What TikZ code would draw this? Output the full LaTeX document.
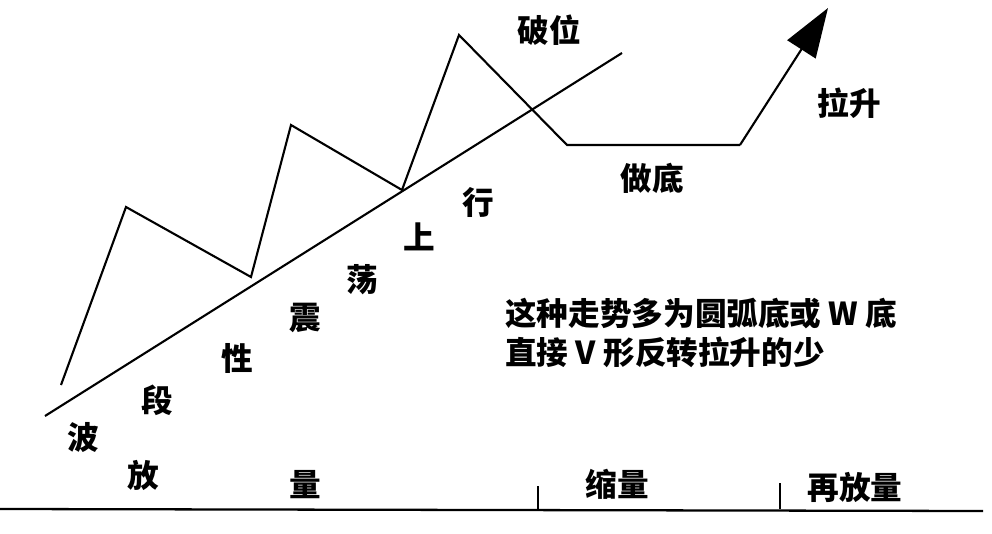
\documentclass[tikz,border=0pt]{standalone}
\usepackage{fontspec}
\newfontfamily\cjk{Noto Sans CJK SC}
\usetikzlibrary{arrows.meta}
\tikzset{
  linea/.style={line width=1.2pt, line join=miter},
  etich/.style={font=\cjk\bfseries\fontsize{18}{18}\selectfont, inner sep=0pt},
}
\begin{document}
\begin{tikzpicture}[x=0.02cm, y=-0.02cm]
        \useasboundingbox (0,0) rectangle (992,534);
        % Punti del percorso
        \coordinate (p0) at (61,385);
        \coordinate (p1) at (126,207);
        \coordinate (p2) at (251,277);
        \coordinate (p3) at (291,125);
        \coordinate (p4) at (402,190);
        \coordinate (p5) at (459,35);
        \coordinate (p6) at (567,145);
        \coordinate (p7) at (740,145);
        \coordinate (p8) at (828,8);
        \draw[linea] (p0) -- (p1) -- (p2) -- (p3) -- (p4) -- (p5) -- (p6) -- (p7);
        \draw[linea, -{Triangle[length=28pt, width=19pt]}] (p7) -- (p8);

        % Linea di tendenza
        \coordinate (t0) at (45,416);
        \coordinate (t1) at (622,53);
        \draw[linea] (t0) -- (t1);

        % Asse in basso
        \coordinate (a0) at (0,509);
        \coordinate (a1) at (983,511);
        \coordinate (k1) at (538,486);
        \coordinate (k2) at (780,483);
        \draw[line width=1.3pt] (a0) -- (a1);
        \draw[line width=1pt] (k1) -- (k1 |- a0);
        \draw[line width=1pt] (k2) -- (k2 |- a0);

        % Scritte lungo la linea
        \foreach \nome/\x/\y/\testo in {c1/83/437/波, c2/157/400/段, c3/237/358/性, c4/305/318/震,
                                        c5/362/280/荡, c6/419/237/上, c7/478/202/行}
            \node[etich] (\nome) at (\x,\y) {\testo};

        % Fasi
        \node[etich] (powei) at (549,30) {破位};
        \node[etich] (zuodi) at (652,178) {做底};
        \node[etich] (lasheng) at (849,103) {拉升};

        % Volumi
        \node[etich] (fang) at (143,475) {放};
        \node[etich] (liang) at (305,485) {量};
        \node[etich] (suo) at (617,484) {缩量};
        \node[etich] (zaifang) at (855,487) {再放量};

        % Nota
        \node[etich, anchor=west, align=left] (nota) at (505,333)
            {这种走势多为圆弧底或 W 底\\[4pt]直接 V 形反转拉升的少};
\end{tikzpicture}
\end{document}
